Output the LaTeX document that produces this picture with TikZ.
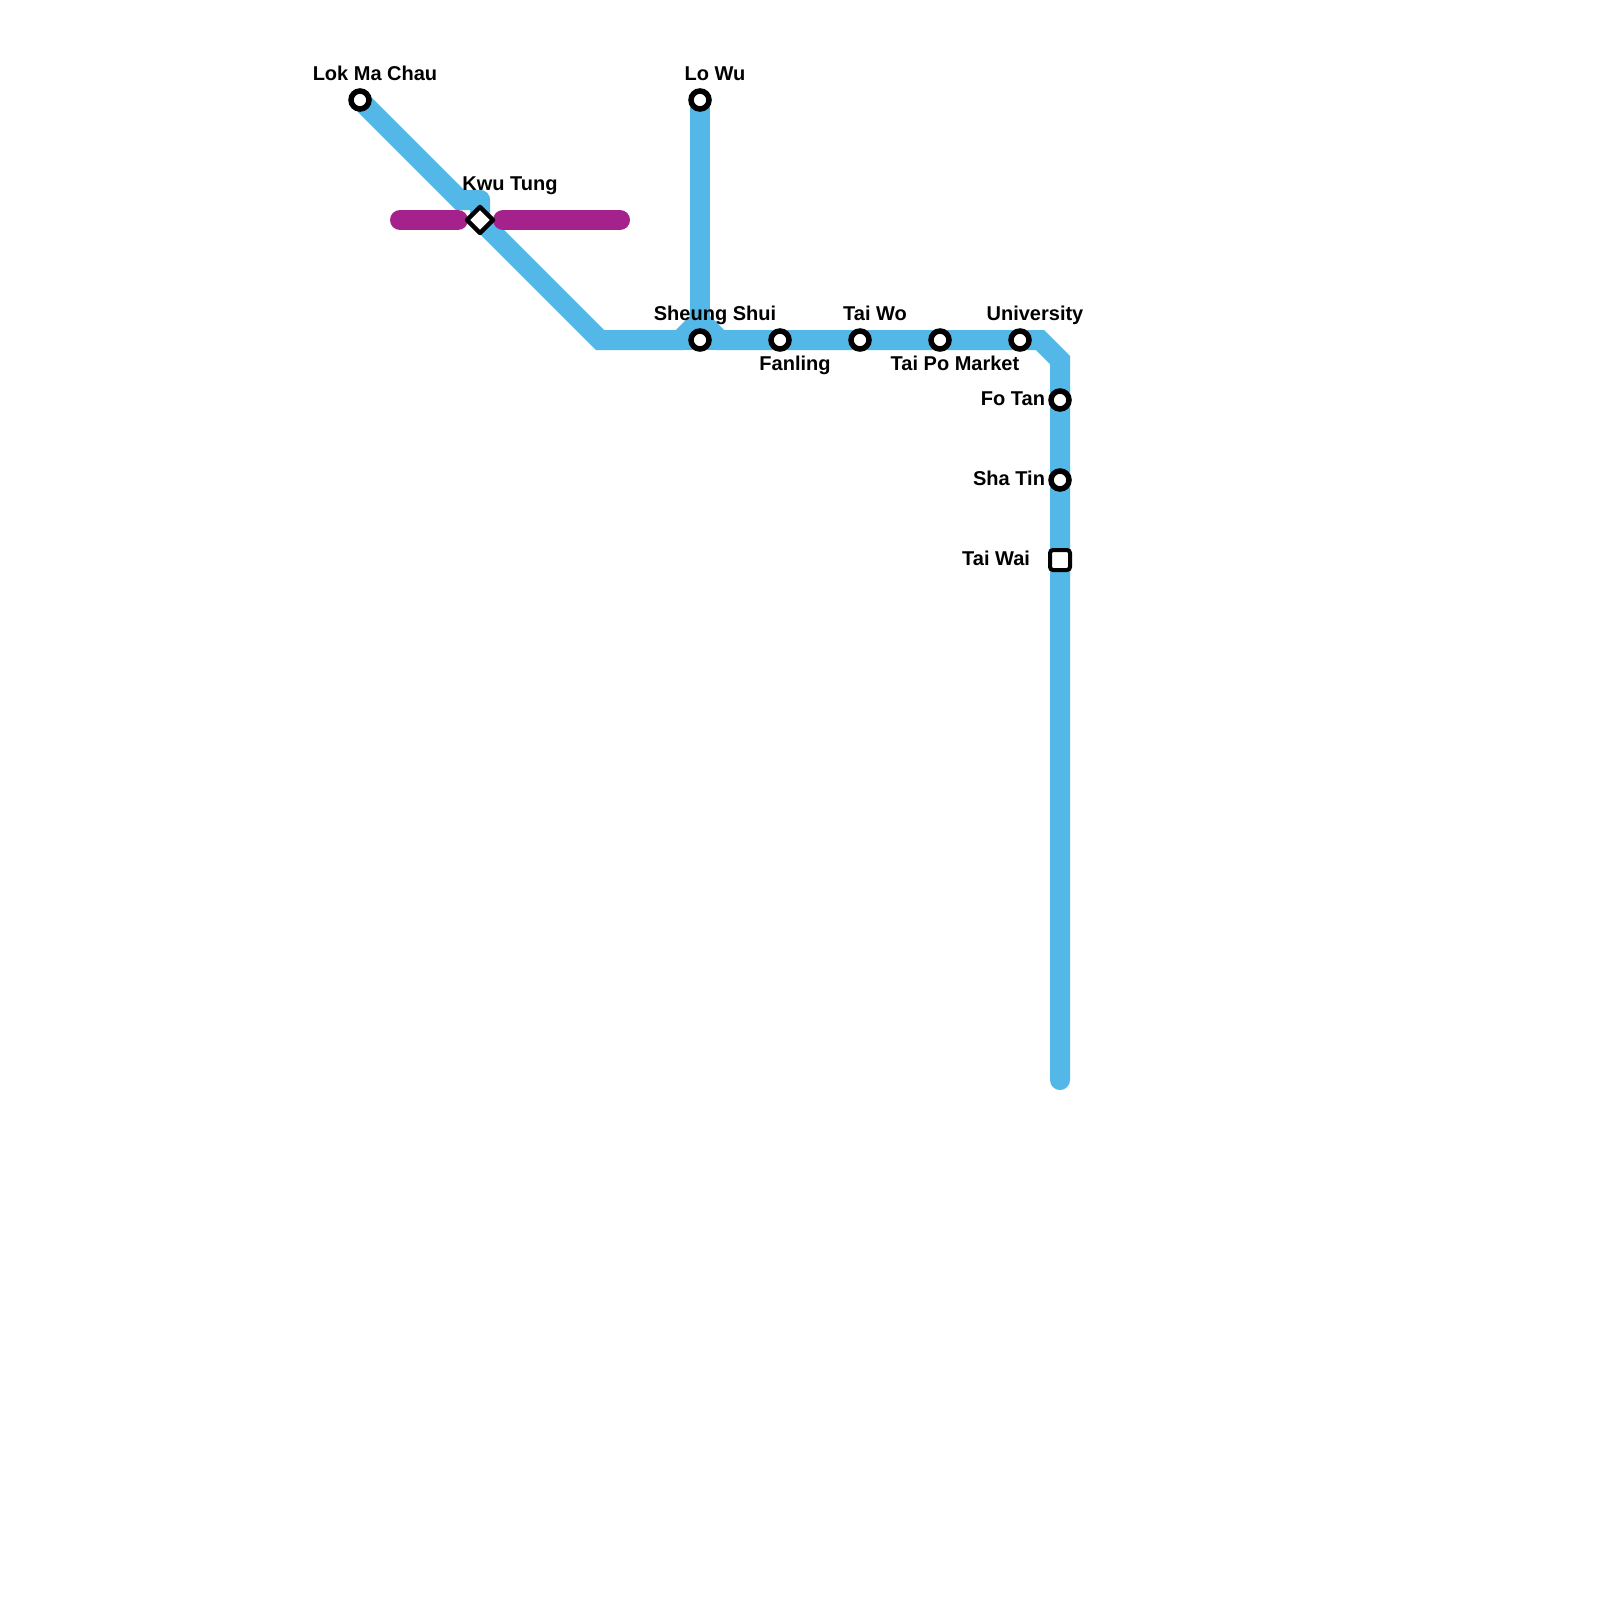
\documentclass[tikz,border=0pt]{standalone}
\usepackage{fontspec}
\setmainfont{Liberation Sans}
\usetikzlibrary{shapes.geometric,backgrounds}
\definecolor{lineblue}{HTML}{53B7E8}
\definecolor{linepurple}{HTML}{A5228D}
\tikzset{
  stn/.style={circle,draw=black,fill=white,line width=5.5pt,minimum size=18pt,inner sep=0pt,outer sep=0pt},
  stnsq/.style={rectangle,draw=black,fill=white,line width=4pt,rounded corners=3pt,minimum size=20pt,inner sep=0pt,outer sep=0pt},
  stndia/.style={diamond,draw=black,fill=white,line width=4.5pt,line join=round,minimum width=26pt,minimum height=26pt,inner sep=0pt,outer sep=0pt},
  lbl/.style={font=\fontsize{20}{24}\selectfont\bfseries,text=black,inner sep=0pt,outer sep=0pt},
  lblc/.style={lbl,anchor=base},
  lble/.style={lbl,anchor=base east},
  blueline/.style={draw=lineblue,line width=20pt,line join=miter,line cap=round},
  purpleline/.style={draw=linepurple,line width=20pt,line cap=round},
}
\begin{document}
\begin{tikzpicture}[x=1pt,y=-1pt]
\useasboundingbox (0,0) rectangle (1600,1600);
% stations
\node[stn] (lmc) at (360,100) {};
\node[stn] (lw) at (700,100) {};
\node[stndia] (kt) at (480,220) {};
\node[stn] (ss) at (700,340) {};
\node[stn] (fl) at (780,340) {};
\node[stn] (tw) at (860,340) {};
\node[stn] (tpm) at (940,340) {};
\node[stn] (uni) at (1020,340) {};
\node[stn] (ft) at (1060,400) {};
\node[stn] (st) at (1060,480) {};
\node[stnsq] (twi) at (1060,560) {};
% bends and free ends
\coordinate (b1) at (460,200);
\coordinate (b2) at (480,200);
\coordinate (b3) at (600,340);
\coordinate (b4) at (680,340);
\coordinate (b5) at (700,320);
\coordinate (b6) at (720,340);
\coordinate (b7) at (1040,340);
\coordinate (b8) at (1060,360);
\coordinate (lineend) at (1060,1080);
\coordinate (pa) at (400,220);
\coordinate (pb) at (458,220);
\coordinate (pc) at (503,220);
\coordinate (pd) at (620,220);
\begin{scope}[on background layer]
\fill[white] (0,0) rectangle (1600,1600);
\draw[blueline] (lmc.center) -- (b1) -- (b2);
\draw[blueline] (b2) -- (kt.center) -- (b3) -- (b4) -- (b5) -- (b6) -- (fl.center) -- (tw.center) -- (tpm.center) -- (uni.center) -- (b7) -- (b8) -- (ft.center) -- (st.center) -- (twi.center) -- (lineend);
\draw[blueline] (lw.center) -- (b5);
\draw[blueline] (b4) -- (ss.center) -- (b6);
\draw[purpleline] (pa) -- (pb);
\draw[purpleline] (pc) -- (pd);
\end{scope}
% labels
\node[lblc] (lLMC) at (375,81) {Lok Ma Chau};
\node[lblc] (lLW) at (715,81) {Lo Wu};
\node[lblc] (lKT) at (510,190) {Kwu Tung};
\node[lblc] (lSS) at (715,320) {Sheung Shui};
\node[lblc] (lFL) at (795,370) {Fanling};
\node[lblc] (lTW) at (875,320) {Tai Wo};
\node[lblc] (lTPM) at (955,370) {Tai Po Market};
\node[lblc] (lUNI) at (1035,320) {University};
\node[lble] (lFT) at (1045,405) {Fo Tan};
\node[lble] (lST) at (1045,485) {Sha Tin};
\node[lble] (lTWI) at (1030,565) {Tai Wai};
\end{tikzpicture}
\end{document}
